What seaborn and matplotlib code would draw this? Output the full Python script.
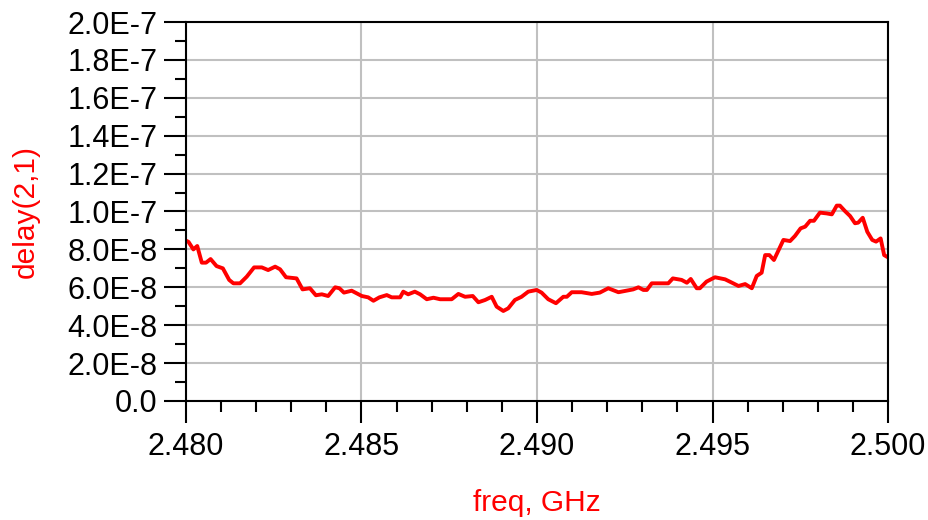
import matplotlib
matplotlib.use("Agg")
import matplotlib.pyplot as plt
from matplotlib.ticker import MultipleLocator, FuncFormatter
import seaborn as sns
import pandas as pd

# group delay S21 (freq in GHz, delay in units of 1E-8 s)
freq_ghz = [2.48000, 2.48007, 2.48021, 2.48032, 2.48045, 2.48057, 2.48070, 2.48087,
            2.48105, 2.48123, 2.48135, 2.48154, 2.48173, 2.48194, 2.48216, 2.48234,
            2.48254, 2.48268, 2.48285, 2.48315, 2.48332, 2.48353, 2.48370, 2.48387,
            2.48405, 2.48425, 2.48437, 2.48450, 2.48472, 2.48501, 2.48519, 2.48534,
            2.48551, 2.48572, 2.48586, 2.48610, 2.48619, 2.48633, 2.48652, 2.48667,
            2.48686, 2.48705, 2.48724, 2.48757, 2.48776, 2.48795, 2.48817, 2.48833,
            2.48852, 2.48871, 2.48885, 2.48904, 2.48918, 2.48937, 2.48956, 2.48975,
            2.48999, 2.49013, 2.49032, 2.49054, 2.49075, 2.49085, 2.49099, 2.49127,
            2.49156, 2.49179, 2.49203, 2.49232, 2.49274, 2.49289, 2.49303, 2.49313,
            2.49327, 2.49374, 2.49387, 2.49412, 2.49427, 2.49438, 2.49455, 2.49464,
            2.49483, 2.49507, 2.49536, 2.49559, 2.49574, 2.49593, 2.49612, 2.49626,
            2.49640, 2.49650, 2.49662, 2.49675, 2.49702, 2.49721, 2.49735, 2.49751,
            2.49764, 2.49778, 2.49789, 2.49806, 2.49825, 2.49840, 2.49854, 2.49863,
            2.49877, 2.49892, 2.49906, 2.49915, 2.49928, 2.49941, 2.49955, 2.49966,
            2.49979, 2.49989, 2.50000]
delay_e8 = [8.46, 8.40, 8.00, 8.18, 7.30, 7.30, 7.49, 7.12,
            7.00, 6.39, 6.21, 6.21, 6.56, 7.05, 7.05, 6.91,
            7.09, 6.95, 6.53, 6.47, 5.89, 5.95, 5.58, 5.63,
            5.54, 6.00, 5.95, 5.72, 5.82, 5.54, 5.47, 5.29,
            5.47, 5.59, 5.47, 5.47, 5.77, 5.63, 5.77, 5.63,
            5.37, 5.45, 5.37, 5.37, 5.65, 5.50, 5.54, 5.21,
            5.33, 5.50, 4.98, 4.75, 4.89, 5.33, 5.50, 5.77,
            5.86, 5.72, 5.37, 5.16, 5.50, 5.50, 5.74, 5.74,
            5.65, 5.72, 5.95, 5.74, 5.89, 6.00, 5.86, 5.86,
            6.21, 6.21, 6.47, 6.39, 6.24, 6.44, 5.95, 5.95,
            6.30, 6.53, 6.42, 6.21, 6.07, 6.17, 5.95, 6.60,
            6.77, 7.70, 7.70, 7.44, 8.50, 8.44, 8.71, 9.11,
            9.20, 9.51, 9.51, 9.94, 9.90, 9.85, 10.31, 10.31,
            10.03, 9.76, 9.38, 9.41, 9.67, 8.93, 8.50, 8.41,
            8.58, 7.70, 7.58]

df = pd.DataFrame({"freq": freq_ghz, "delay": [d * 1e-8 for d in delay_e8]})

sns.set_style("white")
plt.rcParams["font.family"] = ["Liberation Sans", "DejaVu Sans"]
plt.rcParams["text.color"] = "black"
plt.rcParams["xtick.color"] = "black"
plt.rcParams["ytick.color"] = "black"

fig = plt.figure(figsize=(9.29, 5.2), dpi=100)
ax = fig.add_axes([186 / 929, 1 - 401 / 520, 702 / 929, 379 / 520])

sns.lineplot(data=df, x="freq", y="delay", ax=ax, color="#ff0000", linewidth=2.8,
             sort=False, estimator=None)

ax.set_xlim(2.480, 2.500)
ax.set_ylim(0, 2e-7)
ax.xaxis.set_major_locator(MultipleLocator(0.005))
ax.xaxis.set_minor_locator(MultipleLocator(0.001))
ax.yaxis.set_major_locator(MultipleLocator(2e-8))
ax.yaxis.set_minor_locator(MultipleLocator(1e-8))
ax.xaxis.set_major_formatter(FuncFormatter(lambda v, p: f"{v:.3f}"))


def sci(v, pos):
    if abs(v) < 1e-12:
        return "0.0"
    m, e = f"{v:.1E}".split("E")
    return f"{m}E{int(e)}"


ax.yaxis.set_major_formatter(FuncFormatter(sci))

ax.grid(True, which="major", color="#c0c0c0", linewidth=1.5)
for s in ax.spines.values():
    s.set_visible(True)
    s.set_color("black")
    s.set_linewidth(1.5)

ax.tick_params(which="major", direction="out", length=15.5, width=1.5, color="black",
               labelsize=22, labelcolor="black", left=True, bottom=True)
ax.tick_params(which="minor", direction="out", length=8, width=1.5, color="black",
               left=True, bottom=True)
ax.tick_params(axis="y", which="major", pad=5)
ax.tick_params(axis="x", which="major", pad=7)

ax.set_xlabel("freq, GHz", color="#ff0000", fontsize=21.5, labelpad=19)
ax.set_ylabel("delay(2,1)", color="#ff0000", fontsize=21.5, labelpad=20)

fig.savefig("out.png", dpi=100)
